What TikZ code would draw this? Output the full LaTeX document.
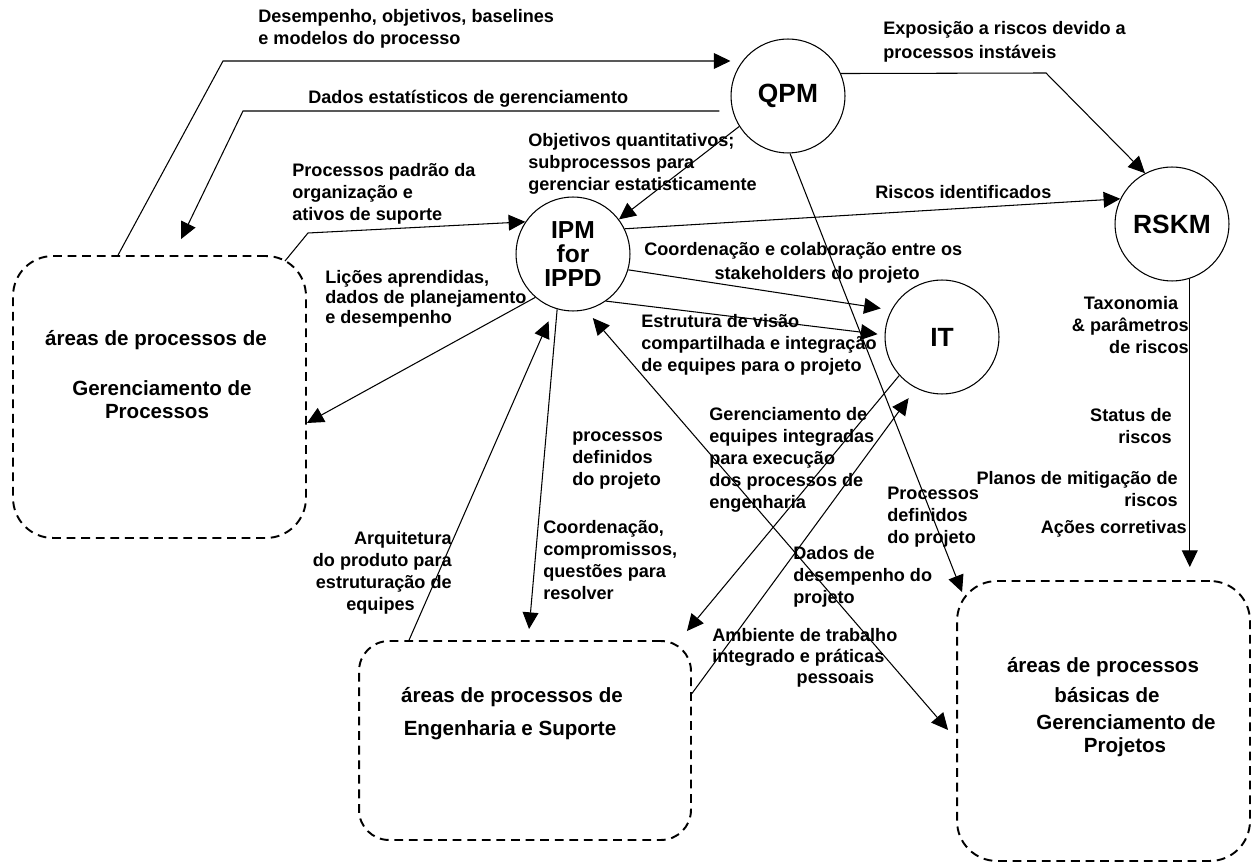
\documentclass[tikz,border=0pt]{standalone}
\usepackage{fontspec}
\setmainfont{Liberation Sans}
\usetikzlibrary{arrows.meta,calc}
\begin{document}
\begin{tikzpicture}[x=0.02cm,y=-0.02cm,
  conn/.style={line width=0.6pt},
  arr/.style={conn,-{Triangle[length=9.5pt,width=9pt]}},
  darr/.style={conn,{Triangle[length=9.5pt,width=9pt]}-{Triangle[length=9.5pt,width=9pt]}},
  proc/.style={circle,draw,line width=0.6pt,minimum size=2.28cm,inner sep=0pt,font=\bfseries\fontsize{15}{15}\selectfont},
  area/.style={draw,dash pattern=on 5pt off 3.3pt,line width=1.1pt,rounded corners=0.8cm,inner sep=0pt},
  lbl/.style={font=\bfseries\fontsize{10.3}{12.5}\selectfont,align=left,inner sep=0pt,anchor=north west},
  lblr/.style={lbl,align=right,anchor=north east},
  atext/.style={font=\bfseries\fontsize{11.7}{14}\selectfont,inner sep=0pt,anchor=base},
]
\useasboundingbox (0,0) rectangle (1254,864);

% process circles
\node[proc] (qpm) at (788,96) {QPM};
\node[proc,font=\bfseries\fontsize{14}{13.9}\selectfont,align=center] (ipm) at (573,254) {IPM\\for\\IPPD};
\node[proc] (rskm) at (1172,224) {RSKM};
\node[proc] (it) at (942,337) {IT};

% dashed areas
\node[area,minimum width=5.86cm,minimum height=5.64cm] (gp) at (159.5,397) {};
\node[area,rounded corners=0.6cm,minimum width=6.64cm,minimum height=3.98cm] (es) at (525,740.5) {};
\node[area,minimum width=5.86cm,minimum height=5.6cm] (pj) at (1103.5,721) {};

\node[atext] (gp1) at (156,346) {áreas de processos de};
\node[atext] (gp2) at (162,396) {Gerenciamento de};
\node[atext] (gp3) at (157,419) {Processos};
\node[atext] (es1) at (512,702) {áreas de processos de};
\node[atext] (es2) at (510,735) {Engenharia e Suporte};
\node[atext] (pj1) at (1103,672) {áreas de processos};
\node[atext] (pj2) at (1107,702) {básicas de};
\node[atext] (pj3) at (1126,729) {Gerenciamento de};
\node[atext] (pj4) at (1125,752) {Projetos};

% labels
\node[lbl] (l1) at (258,9) {Desempenho, objetivos, baselines\\e modelos do processo};
\node[lbl] (l2) at (308,90) {Dados estatísticos de gerenciamento};
\node[lbl] (l3) at (292,163) {Processos padrão da\\organização e\\ativos de suporte};
\node[lbl,font=\bfseries\fontsize{10.3}{11.4}\selectfont] (l4) at (325,270) {Lições aprendidas,\\dados de planejamento\\e desempenho};
\node[lbl] (l5) at (528,133) {Objetivos quantitativos;\\subprocessos para\\gerenciar estatisticamente};
\node[lbl,font=\bfseries\fontsize{10.3}{13.9}\selectfont] (l6) at (883,21) {Exposição a riscos devido a\\processos instáveis};
\node[lbl] (l7) at (875,185) {Riscos identificados};
\node[lbl,font=\bfseries\fontsize{10.3}{13.6}\selectfont] (l8) at (644,242) {Coordenação e colaboração entre os\\\hspace*{40pt}stakeholders do projeto};
\node[lbl] (l9) at (641,314) {Estrutura de visão\\compartilhada e integração\\de equipes para o projeto};
\node[lblr] (l10) at (1189,296) {Taxonomia\hspace*{6pt}\\\& parâmetros\\de riscos};
\node[lblr] (l11) at (1172,408) {Status de\\riscos};
\node[lblr] (l12) at (1178,471) {Planos de mitigação de\\riscos};
\node[lblr] (l13) at (1187,520) {Ações corretivas};
\node[lbl] (l14) at (572,431) {processos\\definidos\\do projeto};
\node[lbl] (l15) at (709,407) {Gerenciamento de\\equipes integradas\\para execução\\dos processos de\\engenharia};
\node[lbl] (l16) at (887,487) {Processos\\definidos\\do projeto};
\node[lbl] (l17) at (543,520) {Coordenação,\\compromissos,\\questões para\\resolver};
\node[lblr] (l18) at (452,531) {Arquitetura\\do produto para\hspace*{4.5pt}\\estruturação de\hspace*{10.8pt}\\equipes\hspace*{21pt}};
\node[lbl] (l19) at (793,546) {Dados de\\desempenho do\\projeto};
\node[lbl,font=\bfseries\fontsize{10.3}{12}\selectfont] (l20) at (712,628) {Ambiente de trabalho\\integrado e práticas\\\hspace*{48pt}pessoais};

% bend points
\coordinate (b1) at (223,61);
\coordinate (b2) at (243,111);
\coordinate (b2s) at (b2 -| qpm.west);
\coordinate (b3) at (308,233);
\coordinate (b6) at (1046,73);
\coordinate (r1) at (rskm.288 |- pj.north);

% connectors
\draw[arr] ($(gp.north west)+(106,0)$) -- (b1) -- (b1 -| qpm.west);
\draw[arr] ($(b2s)+(-11,0)$) -- (b2) -- ($(gp.north west)+(169,-16)$);
\draw[arr] ($(gp.north east)+(-22,6)$) -- (b3) -- (ipm.146);
\draw[arr] (ipm.229) -- ($(gp.east)+(0,26)$);
\draw[arr] (qpm.212) -- (ipm.37);
\draw[arr] (qpm.23) -- (b6) -- (rskm.118);
\draw[arr] (ipm.26) -- (rskm.154);
\draw[arr] (qpm.272) -- ($(pj.north west)+(6,12)$);
\draw[arr] (rskm.288) -- ($(r1)+(0,-13)$);
\draw[arr,shorten >=6pt] (ipm.344) -- (it.152);
\draw[arr,shorten >=4pt] (ipm.305) -- (it.178);
\draw[arr] (it.222) -- ($(es.north east)+(-5,-9)$);
\draw[arr,shorten >=7pt] ($(es.east)+(0,-47)$) -- (it.243);
\draw[arr,shorten >=8pt] ($(es.north west)+(51,0)$) -- (ipm.251);
\draw[arr] (ipm.254) -- ($(es.north west)+(171,-11)$);
\draw[darr,shorten <=6pt] (ipm.283) -- ($(pj.west)+(-8,9)$);
\end{tikzpicture}
\end{document}
